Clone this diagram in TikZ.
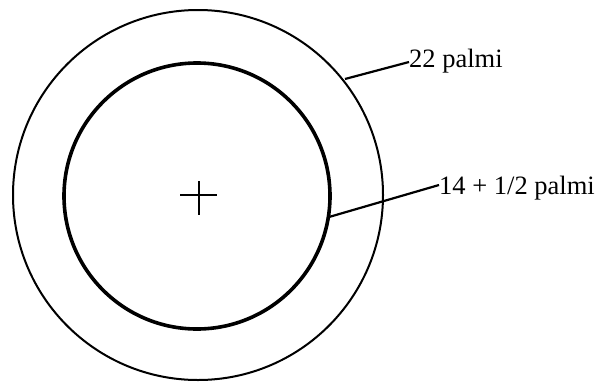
\documentclass[tikz,border=0pt]{standalone}
\usepackage{fontspec}
\setmainfont{Liberation Serif}
\begin{document}
\begin{tikzpicture}[x=1pt,y=-1pt,
  lbl/.style={font=\fontsize{26.5}{30}\selectfont, inner sep=0pt, anchor=base west},
  leader/.style={line width=2.2pt}]
\useasboundingbox (0,0) rectangle (599,381);
\coordinate (c) at (198,195);
\draw[line width=2pt] (c) circle[radius=185];
\draw[line width=3.6pt] (197,196) circle[radius=133];
\draw[line width=2.6pt] (180,195) -- (217,195);
\draw[line width=2.6pt] (199,181) -- (199,215);
\node[lbl] (l1) at (409,67) {22 palmi};
\node[lbl] (l2) at (439,194) {14 + 1/2 palmi};
\coordinate (p1) at (345,79);
\coordinate (p2) at (329,217);
\draw[leader] (p1) -- (l1.base west |- 0,62);
\draw[leader] (p2) -- (l2.base west |- 0,185);
\end{tikzpicture}
\end{document}
